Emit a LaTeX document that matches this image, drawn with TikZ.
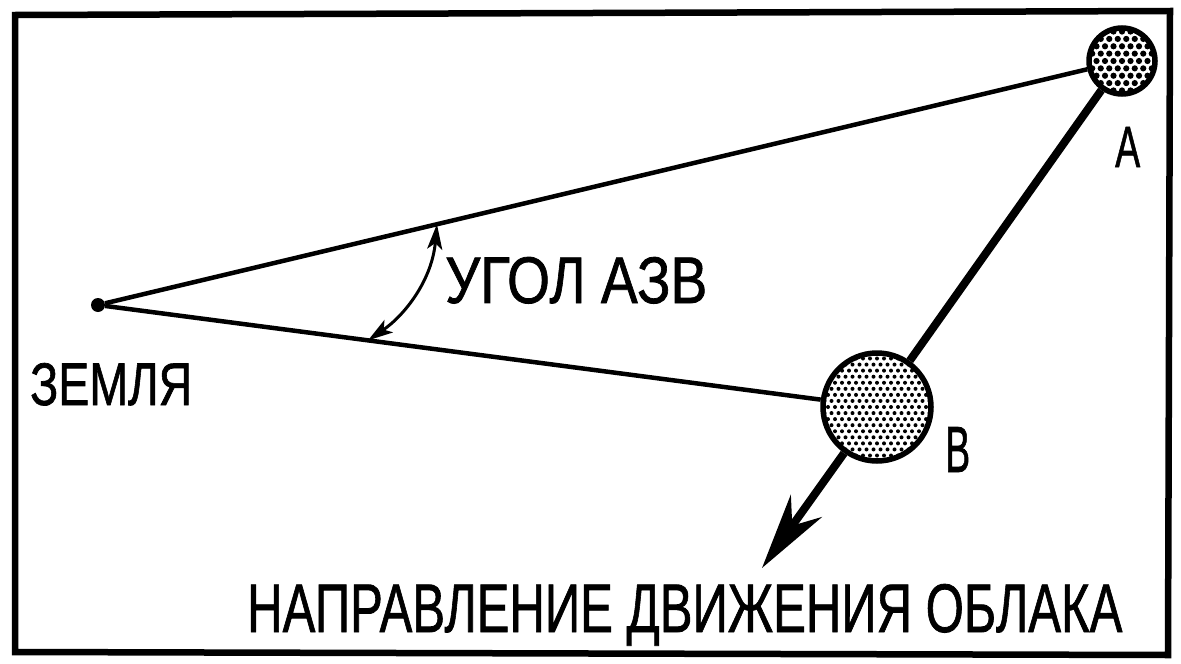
\documentclass[tikz,border=0pt]{standalone}
\usepackage{fontspec}
\setmainfont{Liberation Sans}
\newfontfamily\lblfont[FakeBold=1.2]{Liberation Sans}
\usepackage{graphicx}
\usetikzlibrary{arrows.meta,calc}
\newcommand{\fitlbl}[3]{\resizebox{#1}{#2}{\lblfont #3}}
\newcommand{\dotgrid}[3]{%
  \foreach \j in {-#3,...,#3}{%
    \foreach \i in {-#3,...,#3}{%
      \pgfmathsetmacro{\dx}{\i*#1+mod(\j+20,2)*#1/2}%
      \pgfmathsetmacro{\dy}{\j*#1*0.866}%
      \fill[black] ([shift={(\dx pt,\dy pt)}]path picture bounding box.center) circle (#2);
    }}}
\begin{document}
\begin{tikzpicture}[x=1pt,y=-1pt,
  ballA/.style={circle,draw,line width=5.5pt,inner sep=0pt,minimum size=66pt,fill=white,
    path picture={\dotgrid{8.5}{3.1pt}{6}}},
  ballB/.style={circle,draw,line width=5.5pt,inner sep=0pt,minimum size=108pt,fill=white,
    path picture={\dotgrid{7}{2pt}{10}}},
  ray/.style={line width=4.5pt},
  lbl/.style={anchor=base west,inner sep=0pt}]
\useasboundingbox (0,0) rectangle (1181,664);
\draw[line width=6.5pt,line join=miter] (15,15) -- (1170,11) -- (1168,655) -- (15,652) -- cycle;

\node[circle,fill,inner sep=0pt,minimum size=14pt] (E) at (98,305) {};
\node[ballA] (A) at (1122,61) {};
\node[ballB] (B) at (877,407) {};

\draw[ray] (E) -- (A);
\draw[ray] (E) -- (B);
\draw[line width=8pt] (A) -- (B);
\coordinate (tip) at (762,568);
\draw[line width=8pt,-{Stealth[length=76pt,width=38pt,inset=24pt]}] (B) -- (tip);

\coordinate (p1) at ($(E)!0.331!(A)$);
\coordinate (p2) at ($(E)!0.3466!(B)$);
\draw[line width=3pt,{Stealth[length=25pt,width=15pt,inset=6pt]}-{Stealth[length=25pt,width=15pt,inset=6pt]}]
  (p1) .. controls (432,280) and (405,315) .. (p2);

\node[lbl] (ugol) at (445,303) {\fitlbl{262pt}{46pt}{УГОЛ АЗВ}};
\node[lbl] (zemlya) at (30,405) {\fitlbl{162pt}{42pt}{ЗЕМЛЯ}};
\node[lbl] (la) at (1115,167) {\fitlbl{25pt}{40pt}{A}};
\node[lbl] (lb) at (945,472) {\fitlbl{25pt}{45pt}{B}};
\node[lbl] (dir) at (247,632) {\fitlbl{875pt}{48pt}{НАПРАВЛЕНИЕ ДВИЖЕНИЯ ОБЛАКА}};
\end{tikzpicture}
\end{document}
